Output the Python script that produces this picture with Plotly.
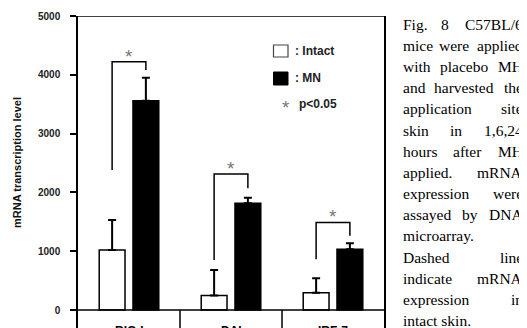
import plotly.graph_objects as go

# ---------------- data ----------------
categories = ["RIG-I", "DAI", "IRF-7"]
intact = [1020, 245, 295]
intact_err = [510, 435, 245]
mn = [3560, 1815, 1032]
mn_err = [390, 95, 102]
bracket_left = [2380, 850, 862]
bracket_top = [4220, 2313, 1490]
bracket_right = [4080, 2070, 1264]
y_ticks = [0, 1000, 2000, 3000, 4000, 5000]
caption_lines = [
    ("Fig. 8 C57BL/6", True),
    ("mice were applied", True),
    ("with placebo MH", True),
    ("and harvested the", True),
    ("application site", True),
    ("skin in 1,6,24", True),
    ("hours after MH", True),
    ("applied. mRNA", True),
    ("expression were", True),
    ("assayed by DNA", True),
    ("microarray.", False),
    ("Dashed line", True),
    ("indicate mRNA", True),
    ("expression in", True),
    ("intact skin.", False),
]

# ---------------- layout geometry ----------------
# the page body has an 8px margin, so the figure is drawn 8px in from the
# top-left corner; all page-pixel positions below are converted accordingly
OFF = 8
PAGE_W, PAGE_H = 527, 328
W, H = PAGE_W - OFF, PAGE_H - OFF
ML, MR, MT, MB = 78 - OFF, PAGE_W - 384, 16 - OFF, 0
PW, PH = W - ML - MR, H - MT - MB
Y_MIN, Y_MAX = -306, 5000
BAR_W = 0.253
OFF_I, OFF_M = -0.292, 0.039
SANS = "Liberation Sans, Arial, sans-serif"
SERIF = "Liberation Serif, Times New Roman, serif"


def px_x(px):
    """page pixel x -> paper x"""
    return (px - OFF - ML) / PW


def px_y(py):
    """page pixel y -> paper y"""
    return (H - MB - (py - OFF)) / PH


xs = list(range(len(categories)))
fig = go.Figure()

fig.add_trace(go.Bar(
    x=xs, y=intact, width=BAR_W, offset=OFF_I,
    marker=dict(color="white", line=dict(color="black", width=1.5)),
    error_y=dict(type="data", symmetric=False, array=intact_err,
                 arrayminus=[0] * len(intact), color="black", thickness=2, width=4),
    showlegend=False, name="Intact"))
fig.add_trace(go.Bar(
    x=xs, y=mn, width=BAR_W, offset=OFF_M,
    marker=dict(color="black", line=dict(color="black", width=1.5)),
    error_y=dict(type="data", symmetric=False, array=mn_err,
                 arrayminus=[0] * len(mn), color="black", thickness=2, width=4),
    showlegend=False, name="MN"))

annotations = []
star_font = dict(family=SANS, size=19, color="#777")

# significance brackets + stars
for i in xs:
    ci = i + OFF_I + BAR_W / 2
    cm = i + OFF_M + BAR_W / 2
    fig.add_trace(go.Scatter(
        x=[ci, ci, cm, cm],
        y=[bracket_left[i], bracket_top[i], bracket_top[i], bracket_right[i]],
        mode="lines", line=dict(color="black", width=1.5),
        showlegend=False, hoverinfo="skip"))
    annotations.append(dict(x=i, y=bracket_top[i], xref="x", yref="y",
                            text="*", showarrow=False, yanchor="bottom",
                            yshift=-7, font=star_font))

shapes = []
# top border
shapes.append(dict(type="line", xref="paper", yref="y", x0=0, x1=1,
                   y0=Y_MAX, y1=Y_MAX, line=dict(color="black", width=1.5)))
# baseline
shapes.append(dict(type="line", xref="paper", yref="y", x0=0, x1=1,
                   y0=0, y1=0, line=dict(color="black", width=1.5)))
# category dividers under the axis
for b in [0.5, 1.5]:
    shapes.append(dict(type="line", xref="x", yref="y", x0=b, x1=b,
                       y0=0, y1=Y_MIN, line=dict(color="black", width=1.5)))
# legend swatches
shapes.append(dict(type="rect", xref="paper", yref="paper",
                   x0=px_x(273.5), x1=px_x(288), y0=px_y(57), y1=px_y(45),
                   line=dict(color="#444", width=1.2), fillcolor="white"))
shapes.append(dict(type="rect", xref="paper", yref="paper",
                   x0=px_x(273.5), x1=px_x(288), y0=px_y(85), y1=px_y(72),
                   line=dict(color="black", width=1), fillcolor="black"))

legend_font = dict(family=SANS, size=12, color="#222", weight="bold")
annotations.append(dict(x=px_x(293), y=px_y(51), xref="paper", yref="paper",
                        text=": Intact", showarrow=False, xanchor="left",
                        yanchor="middle", font=legend_font))
annotations.append(dict(x=px_x(293), y=px_y(78.5), xref="paper", yref="paper",
                        text=": MN", showarrow=False, xanchor="left",
                        yanchor="middle", font=legend_font))
annotations.append(dict(x=px_x(286), y=px_y(103), xref="paper", yref="paper",
                        text="*", showarrow=False, xanchor="center",
                        yanchor="middle", yshift=-4, font=star_font))
annotations.append(dict(x=px_x(297), y=px_y(103.5), xref="paper", yref="paper",
                        text="p<0.05", showarrow=False, xanchor="left",
                        yanchor="middle", font=legend_font))

# category labels (below the axis, mostly cut by page edge)
for i, c in enumerate(categories):
    annotations.append(dict(x=i, y=px_y(321.5), xref="x", yref="paper",
                            text=c, showarrow=False, xanchor="center",
                            yanchor="top",
                            font=dict(family=SANS, size=12, color="black",
                                      weight="bold")))

# y-axis title
annotations.append(dict(x=px_x(17), y=px_y(162), xref="paper", yref="paper",
                        text="mRNA transcription level", showarrow=False,
                        textangle=-90, xanchor="center", yanchor="middle",
                        font=dict(family=SANS, size=11, color="#111",
                                  weight="bold")))

# caption (justified by placing words)
TW = {' ': 250, 'a': 444, 'b': 500, 'c': 444, 'd': 500, 'e': 444, 'f': 333,
      'g': 500, 'h': 500, 'i': 278, 'j': 278, 'k': 500, 'l': 278, 'm': 778,
      'n': 500, 'o': 500, 'p': 500, 'q': 500, 'r': 333, 's': 389, 't': 278,
      'u': 500, 'v': 500, 'w': 722, 'x': 500, 'y': 500, 'z': 444,
      'A': 722, 'B': 667, 'C': 667, 'D': 722, 'F': 556, 'G': 722, 'H': 722,
      'I': 333, 'L': 611, 'M': 889, 'N': 722, 'R': 667,
      '.': 250, ',': 250, '/': 278}
for d in "0123456789":
    TW[d] = 500
CAP_SIZE = 15.5
CAP_SCALE = 1.07          # rendered width vs. nominal metrics
CAP_X0, CAP_X1 = 401.5, 523.5
CAP_Y0, CAP_DY = 24, 21.2


def word_w(w):
    return sum(TW.get(ch, 500) for ch in w) / 1000 * CAP_SIZE * CAP_SCALE


cap_font = dict(family=SERIF, size=CAP_SIZE, color="black")
for li, (line, justify) in enumerate(caption_lines):
    yy = px_y(CAP_Y0 + CAP_DY * li)
    words = line.split(" ")
    if justify and len(words) > 1:
        widths = [word_w(w) for w in words]
        gap = (CAP_X1 - CAP_X0 - sum(widths)) / (len(words) - 1)
        xcur = CAP_X0
        n = len(words)
        for k, (w, ww) in enumerate(zip(words, widths)):
            if k == 0:
                xa, xp = "left", CAP_X0
            elif k == n - 1:
                xa, xp = "right", CAP_X1
            else:
                xa, xp = "center", xcur + ww / 2
            annotations.append(dict(x=px_x(xp), y=yy, xref="paper", yref="paper",
                                    text=w, showarrow=False, xanchor=xa,
                                    yanchor="middle", borderpad=0, font=cap_font))
            xcur += ww + gap
    else:
        annotations.append(dict(x=px_x(CAP_X0), y=yy, xref="paper", yref="paper",
                                text=line, showarrow=False, xanchor="left",
                                yanchor="middle", borderpad=0, font=cap_font))

fig.update_layout(
    width=W, height=H,
    margin=dict(l=ML, r=MR, t=MT, b=MB, pad=0, autoexpand=False),
    paper_bgcolor="white", plot_bgcolor="white",
    barmode="overlay",
    shapes=shapes, annotations=annotations,
    xaxis=dict(range=[-0.5, len(categories) - 0.5], showgrid=False,
               zeroline=False, showticklabels=False, ticks="",
               showline=False, fixedrange=True),
    yaxis=dict(range=[Y_MIN, Y_MAX], tickvals=y_ticks,
               ticktext=[str(v) for v in y_ticks],
               showgrid=False, zeroline=False,
               showline=True, linecolor="black", linewidth=1.5, mirror=True,
               ticks="outside", ticklen=6, tickwidth=1.5, tickcolor="black",
               ticklabelstandoff=8,
               tickfont=dict(family=SANS, size=10, color="#222", weight="bold"),
               fixedrange=True),
)

fig.write_html("out.html")
